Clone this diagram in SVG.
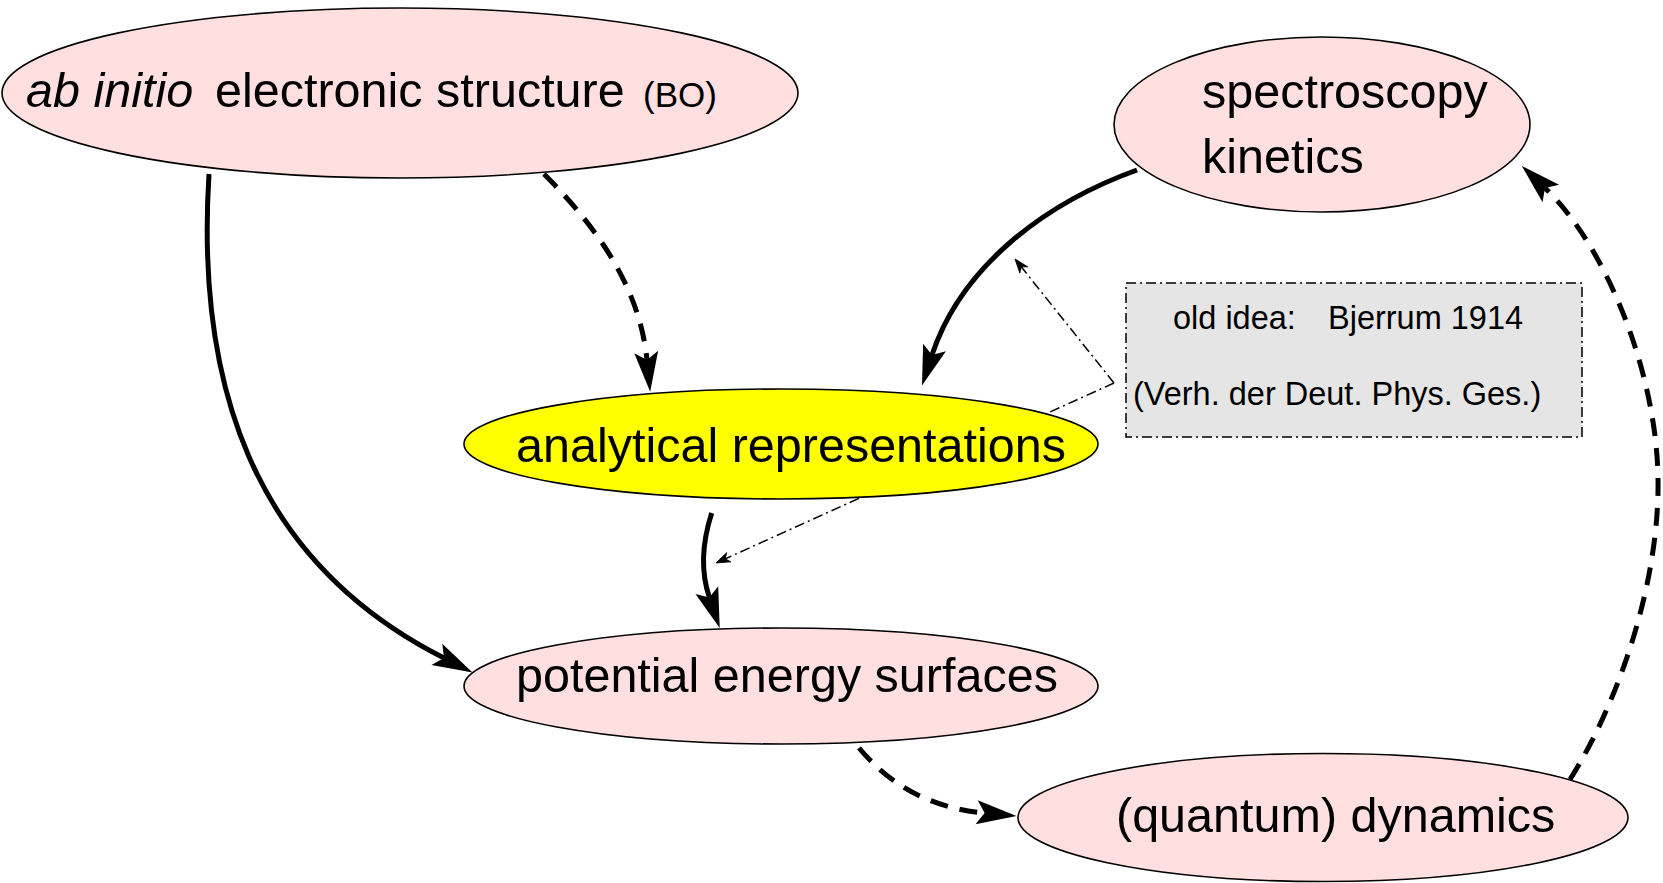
<svg xmlns="http://www.w3.org/2000/svg" width="1663" height="883" viewBox="0 0 1663 883">
<defs>
<style>
.node{stroke:#000;stroke-width:1.6}
.pink{fill:#ffdfdf}
.yellow{fill:#ffff00}
.lbl{font-family:"Liberation Sans",Arial,sans-serif;font-size:48.5px;fill:#000}
.note{font-family:"Liberation Sans",Arial,sans-serif;font-size:32.5px;fill:#000}
.solid{fill:none;stroke:#000;stroke-width:5}
.dash{fill:none;stroke:#000;stroke-width:5;stroke-dasharray:18 12}
.dd{fill:none;stroke:#000;stroke-width:1.5;stroke-dasharray:10 4 2 4}
</style>
<marker id="ah" markerUnits="userSpaceOnUse" markerWidth="50" markerHeight="30" viewBox="-2 -15 50 30" refX="8" refY="0" orient="auto" overflow="visible">
<path d="M40,0 L0,-12 L8,0 L0,12 Z" fill="#000"/>
</marker>
<marker id="ahs" markerUnits="userSpaceOnUse" markerWidth="20" markerHeight="14" viewBox="-16 -7 20 14" refX="0" refY="0" orient="auto" overflow="visible">
<path d="M0,0 L-14,-5 L-10,0 L-14,5 Z" fill="#000" stroke="#000" stroke-width="0.8"/>
</marker>
</defs>
<rect width="1663" height="883" fill="#fff"/>

<g id="connectors">
<path class="dd" d="M1114,383 L1015,259" marker-end="url(#ahs)"/>
<path class="dd" d="M1114,383 L716,563" marker-end="url(#ahs)"/>
<path class="solid" d="M209,174 C196,380 250,560 444,658" marker-end="url(#ah)"/>
<path class="dash" d="M544,174 C600,230 640,290 647,360" marker-end="url(#ah)"/>
<path class="solid" d="M1137,170 C1040,205 960,270 932,355" marker-end="url(#ah)"/>
<path class="solid" d="M711.7,513 C703,540 700,570 709.4,597.6" marker-end="url(#ah)"/>
<path class="dash" d="M859,748 C890,785 930,808 984.6,813" marker-end="url(#ah)"/>
<path class="dash" d="M1570,779.5 C1620,700 1660,580 1658,477 C1656,370 1605,245 1545,188" marker-end="url(#ah)"/>
</g>

<g id="node-abinitio">
<ellipse class="node pink" cx="400" cy="93" rx="398" ry="85"/>
<text class="lbl" y="107"><tspan x="26" font-style="italic">ab initio</tspan><tspan x="215">electronic structure</tspan><tspan x="643" font-size="35px">(BO)</tspan></text>
</g>

<g id="node-spectroscopy">
<ellipse class="node pink" cx="1322" cy="124.5" rx="208" ry="87.5"/>
<text class="lbl" x="1202" y="108">spectroscopy</text>
<text class="lbl" x="1202" y="173">kinetics</text>
</g>

<g id="node-analytical">
<ellipse class="node yellow" cx="781" cy="444" rx="317" ry="55"/>
<text class="lbl" x="516" y="462">analytical representations</text>
</g>

<g id="node-pes">
<ellipse class="node pink" cx="781" cy="686" rx="317" ry="58"/>
<text class="lbl" x="516" y="692">potential energy surfaces</text>
</g>

<g id="node-dynamics">
<ellipse class="node pink" cx="1323" cy="817.5" rx="305" ry="64"/>
<text class="lbl" x="1116" y="832">(quantum) dynamics</text>
</g>

<g id="note">
<rect x="1126" y="283" width="456" height="154" fill="#e5e5e5" stroke="#000" stroke-width="1.5" stroke-dasharray="10 4 2 4"/>
<text class="note" x="1173" y="329">old idea:</text>
<text class="note" x="1328" y="329">Bjerrum 1914</text>
<text class="note" x="1133" y="405">(Verh. der Deut. Phys. Ges.)</text>
</g>
</svg>
